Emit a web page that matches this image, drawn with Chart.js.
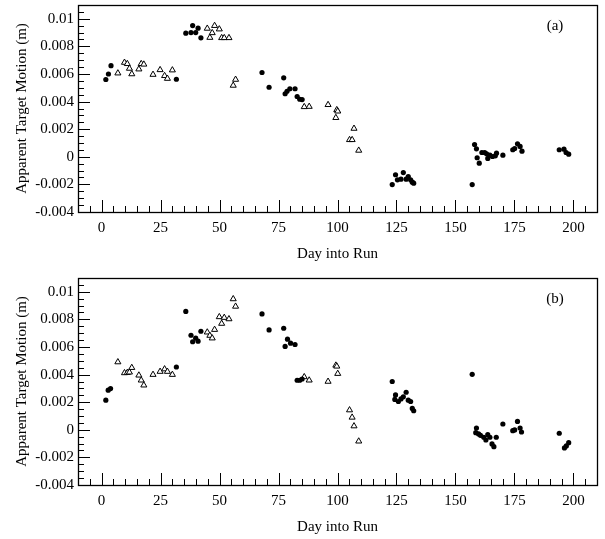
<!DOCTYPE html>
<html>
<head>
<meta charset="utf-8">
<script src="https://cdn.jsdelivr.net/npm/chart.js@4.4.1/dist/chart.umd.min.js"></script>
<style>
html,body{margin:0;padding:0;background:#fff;width:605px;height:539px;overflow:hidden;}
.panel{position:absolute;left:0;width:605px;height:269px;}
</style>
</head>
<body>
<div class="panel" style="top:0"><canvas id="ca" width="605" height="269"></canvas></div>
<div class="panel" style="top:273px"><canvas id="cb" width="605" height="269"></canvas></div>
<script>
// ---- data ----
const xTickValues = [0, 25, 50, 75, 100, 125, 150, 175, 200];
const yTickValues = [-0.004, -0.002, 0, 0.002, 0.004, 0.006, 0.008, 0.01];
const yTickLabels = ['-0.004', '-0.002', '0', '0.002', '0.004', '0.006', '0.008', '0.01'];
const xTitle = 'Day into Run';
const yTitle = 'Apparent Target Motion (m)';
const panelLabels = ['(a)', '(b)'];

const circleDaysA = [1.8, 2.9, 4.0, 31.7, 35.7, 37.9, 38.6, 39.9, 40.9, 42.1, 68.0, 71.0, 77.2, 77.8, 78.6, 79.8, 82.0, 82.9, 84.0, 85.0,
  123.2, 124.6, 125.4, 126.9, 127.9, 129.1, 130.0, 131.0, 131.7, 132.3, 157.1, 158.1, 158.9, 159.2, 160.1, 161.2, 162.4, 163.2, 163.7,
  164.6, 165.7, 166.9, 167.4, 170.1, 174.3, 175.1, 176.3, 177.4, 178.2, 194.0, 196.0, 196.9, 198.0];
const circleValsA = [0.0056, 0.0060, 0.0066, 0.00562, 0.00896, 0.0090, 0.00951, 0.0090, 0.00932, 0.00862, 0.00611, 0.00504, 0.00572,
  0.00457, 0.00475, 0.00493, 0.00493, 0.00437, 0.00417, 0.00415, -0.00201, -0.0013, -0.00167, -0.00162, -0.00114, -0.00162, -0.00143,
  -0.00167, -0.00184, -0.00191, -0.00201, 0.00089, 0.00058, -0.00007, -0.00046, 0.00031, 0.00031, 0.00022, -0.00012, 0.00012, 0.00002,
  0.00007, 0.00026, 0.00012, 0.00051, 0.0006, 0.00094, 0.00075, 0.00041, 0.00051, 0.00055, 0.00031, 0.00019];

const triDays = [6.9, 9.7, 10.9, 11.8, 12.8, 15.8, 16.8, 17.9, 21.8, 24.8, 26.7, 27.9, 30.0, 44.8, 45.9, 46.9, 47.9, 49.9, 50.9, 52.0,
  54.0, 55.8, 56.8, 85.9, 88.0, 96.0, 99.3, 99.7, 100.1, 105.1, 106.2, 107.0, 109.0];
const triValsA = [0.00606, 0.00683, 0.00674, 0.0064, 0.0060, 0.00635, 0.00674, 0.0067, 0.00596, 0.0063, 0.00587, 0.00567, 0.00628,
  0.0093, 0.00864, 0.00898, 0.0095, 0.00925, 0.00862, 0.00862, 0.00862, 0.00517, 0.0056, 0.00362, 0.00364, 0.00377, 0.00283, 0.0034,
  0.0033, 0.00123, 0.00123, 0.00205, 0.00046];

const circleDaysB = [1.8, 2.8, 3.8, 31.7, 35.7, 37.9, 38.6, 39.9, 40.9, 42.1, 68.0, 71.0, 77.2, 77.8, 78.8, 80.1, 82.0, 82.9, 84.0, 85.0,
  123.2, 124.3, 124.6, 125.8, 126.9, 127.9, 129.1, 130.0, 131.0, 131.7, 132.3, 157.1, 158.6, 158.9, 159.8, 160.6, 162.0, 162.9, 163.7,
  164.6, 165.5, 166.3, 167.3, 170.1, 174.3, 175.1, 176.3, 177.4, 178.0, 194.0, 196.2, 197.0, 198.0];
const circleValsB = [0.00215, 0.00287, 0.00299, 0.00455, 0.00858, 0.00685, 0.00638, 0.00664, 0.00642, 0.00714, 0.0084, 0.00724, 0.00736,
  0.00604, 0.00657, 0.00628, 0.00618, 0.00359, 0.00359, 0.00368, 0.0035, 0.0022, 0.00253, 0.00205, 0.00224, 0.00239, 0.00272, 0.00215,
  0.00205, 0.00155, 0.00138, 0.00402, -0.00021, 0.00013, -0.0003, -0.0004, -0.00054, -0.00074, -0.00035, -0.00054, -0.00102, -0.00122,
  -0.00054, 0.00042, -0.00006, -0.00001, 0.00061, 0.00013, -0.00016, -0.00025, -0.00131, -0.00117, -0.00093];
const triValsB = [0.00491, 0.00412, 0.00414, 0.00417, 0.0045, 0.00395, 0.00359, 0.00323, 0.004, 0.00422, 0.0044, 0.00422, 0.004,
  0.00707, 0.00683, 0.00664, 0.00726, 0.00818, 0.0077, 0.00813, 0.00803, 0.00948, 0.00894, 0.00383, 0.00359, 0.0035, 0.00467, 0.0046,
  0.00407, 0.00143, 0.0009, 0.00027, -0.00083];

// ---- rendering ----
const FONT = '"Liberation Serif", "Times New Roman", serif';
const pts = (xs, ys) => xs.map((x, i) => ({x: x, y: ys[i]}));

const framePlugin = {
  id: 'frameTicks',
  afterDraw(chart, args, opts) {
    const ctx = chart.ctx, a = chart.chartArea;
    const xs = chart.scales.x, ys = chart.scales.y;
    ctx.save();
    ctx.strokeStyle = '#000';
    ctx.lineWidth = 1;
    ctx.beginPath();
    for (let i = -2; i <= 42; i++) {
      const v = i * 5;
      const px = Math.round(xs.getPixelForValue(v)) + 0.5;
      if (px <= a.left + 1 || px >= a.right - 1) continue;
      const len = (v % 25 === 0) ? 12 : 6;
      ctx.moveTo(px, a.bottom);
      ctx.lineTo(px, a.bottom - len);
    }
    for (let i = 0; i <= 30; i++) {
      const v = -0.004 + i * 0.0005;
      const py = Math.round(ys.getPixelForValue(v)) + 0.5;
      if (py <= a.top + 1 || py >= a.bottom - 1) continue;
      const len = (i % 4 === 0) ? 12 : 6;
      ctx.moveTo(a.left, py);
      ctx.lineTo(a.left + len, py);
    }
    ctx.stroke();
    ctx.lineWidth = 1.3;
    ctx.strokeRect(Math.round(a.left) + 0.5, Math.round(a.top) + 0.5, Math.round(a.right - a.left), Math.round(a.bottom - a.top));
    ctx.fillStyle = '#000';
    ctx.font = '15px ' + FONT;
    ctx.textAlign = 'center';
    ctx.textBaseline = 'middle';
    ctx.fillText(opts.label, 555, a.top + 21);
    ctx.restore();
  }
};

function makePanel(id, cDays, cVals, tDays, tVals, label) {
  new Chart(document.getElementById(id), {
    type: 'scatter',
    data: {
      datasets: [
        {data: pts(cDays, cVals), pointStyle: 'circle', pointRadius: 2.6, backgroundColor: '#000', borderColor: '#000', borderWidth: 0},
        {data: pts(tDays, tVals), pointStyle: 'triangle', pointRadius: 3.5, backgroundColor: '#fff', borderColor: '#000', borderWidth: 1}
      ]
    },
    options: {
      responsive: false,
      animation: false,
      events: [],
      layout: {padding: {top: 4, right: 8, left: 0, bottom: 0}},
      plugins: {legend: {display: false}, tooltip: {enabled: false}, frameTicks: {label: label}},
      scales: {
        x: {
          type: 'linear', min: -10, max: 210,
          afterBuildTicks: s => { s.ticks = xTickValues.map(v => ({value: v})); },
          afterFit: s => { s.height = 57; s.paddingLeft = 0; s.paddingRight = 0; },
          grid: {display: false, drawTicks: false},
          border: {display: false},
          ticks: {color: '#000', padding: 7, font: {family: FONT, size: 15}, maxRotation: 0},
          title: {display: true, text: xTitle, color: '#000', font: {family: FONT, size: 15}, padding: {top: 0, bottom: 6}}
        },
        y: {
          type: 'linear', min: -0.004, max: 0.011,
          afterBuildTicks: s => { s.ticks = yTickValues.map(v => ({value: v})); },
          afterFit: s => { s.width = 78; s.paddingTop = 0; s.paddingBottom = 0; },
          grid: {display: false, drawTicks: false},
          border: {display: false},
          ticks: {color: '#000', padding: 4, font: {family: FONT, size: 15},
            callback: (v) => { const i = yTickValues.findIndex(t => Math.abs(t - v) < 1e-9); return i >= 0 ? yTickLabels[i] : ''; }},
          title: {display: true, text: yTitle, color: '#000', font: {family: FONT, size: 15}, padding: {top: 13, bottom: 0}}
        }
      }
    },
    plugins: [framePlugin]
  });
}

makePanel('ca', circleDaysA, circleValsA, triDays, triValsA, panelLabels[0]);
makePanel('cb', circleDaysB, circleValsB, triDays, triValsB, panelLabels[1]);
</script>
</body>
</html>
